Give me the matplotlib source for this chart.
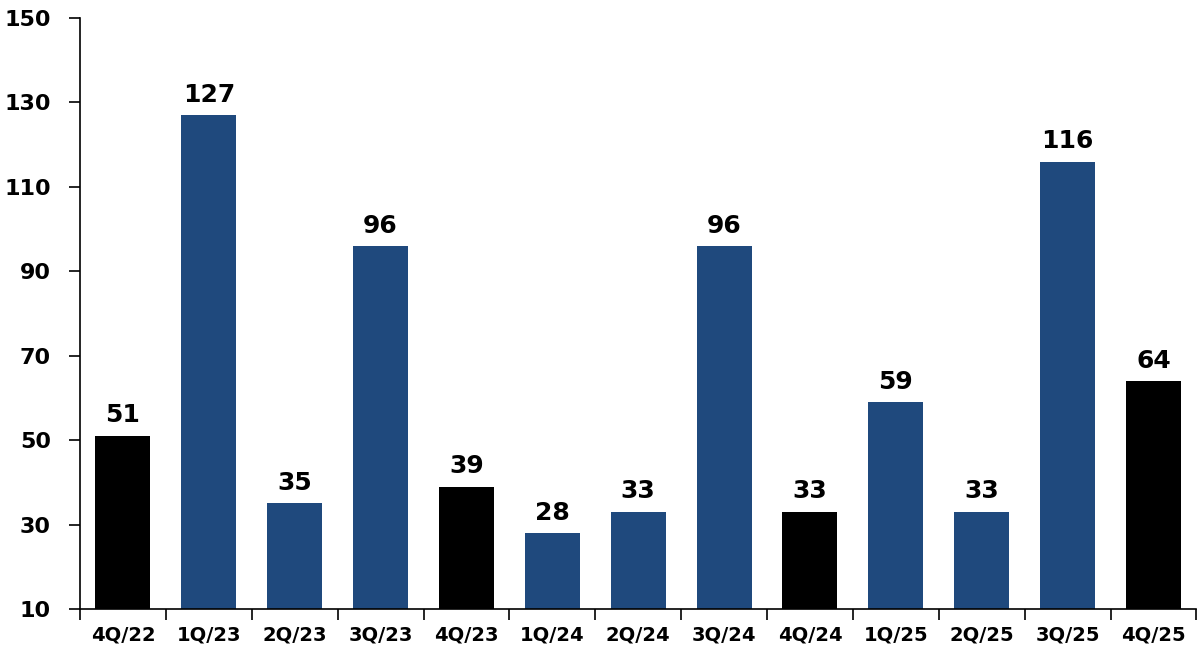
import matplotlib
matplotlib.use('Agg')
import matplotlib.pyplot as plt
import numpy as np

# === Данные ===
quarters = ['4Q/22', '1Q/23', '2Q/23', '3Q/23', '4Q/23', '1Q/24', '2Q/24',
            '3Q/24', '4Q/24', '1Q/25', '2Q/25', '3Q/25', '4Q/25']
values = [51, 127, 35, 96, 39, 28, 33, 96, 33, 59, 33, 116, 64]
yticks = [10, 30, 50, 70, 90, 110, 130, 150]

blue = '#1F497D'
colors = ['black' if q.startswith('4Q') else blue for q in quarters]

plt.rcParams['font.family'] = 'DejaVu Sans'
plt.rcParams['font.weight'] = 'bold'

fig = plt.figure(figsize=(11.97, 6.61), dpi=100)
ax = fig.add_axes([80 / 1197, 52 / 661, 1 - 80 / 1197 - 0.0005, (609 - 18) / 661])

x = np.arange(len(quarters))
ax.bar(x, [v - 10 for v in values], bottom=10, width=0.64, color=colors)

for xi, v in zip(x, values):
    ax.text(xi, v + 2, str(v), ha='center', va='bottom', fontsize=18, fontweight='bold')

ax.set_ylim(10, 150)
ax.set_xlim(-0.5, len(quarters) - 0.5)
ax.set_yticks(yticks)
ax.set_yticklabels([str(t) for t in yticks], fontsize=16, fontweight='bold')
ax.tick_params(axis='y', direction='out', length=8, width=1.2, pad=13)

ax.set_xticks(x)
ax.set_xticklabels(quarters, fontsize=14, fontweight='bold')
ax.set_xticks(np.arange(-0.5, len(quarters)), minor=True)
ax.tick_params(axis='x', which='major', length=0, pad=12)
ax.tick_params(axis='x', which='minor', direction='out', length=8, width=1.2)

for s in ['top', 'right']:
    ax.spines[s].set_visible(False)
for s in ['left', 'bottom']:
    ax.spines[s].set_linewidth(1.2)

fig.savefig('out.png', dpi=100)
